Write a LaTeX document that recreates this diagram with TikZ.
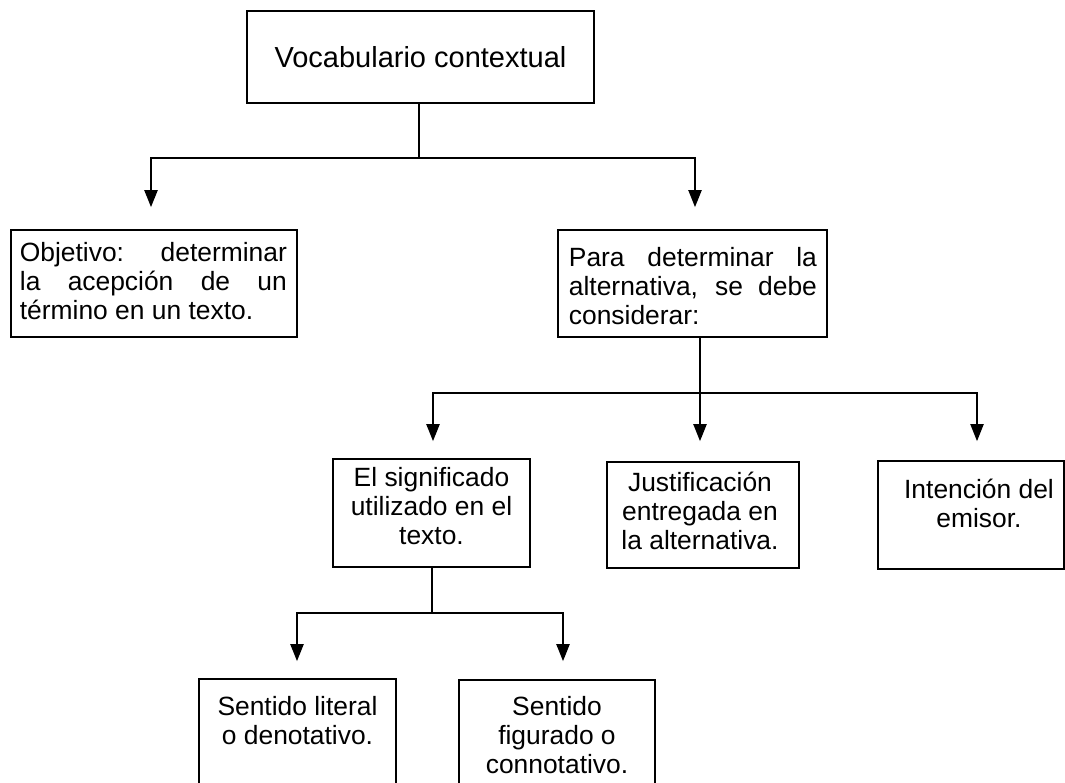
\documentclass[tikz,border=0pt]{standalone}
\usepackage{fontspec}
\setmainfont{Liberation Sans}
\usetikzlibrary{arrows.meta,calc}
\begin{document}
\begin{tikzpicture}[x=1pt,y=-1pt,
  box/.style={draw, line width=1.6pt, inner sep=0pt},
  txt/.style={font=\fontsize{26.4}{29}\selectfont, inner sep=0pt},
  ln/.style={line width=2pt},
  arr/.style={line width=2pt, -{Triangle[length=17pt,width=13pt]}}]
\clip (0,0) rectangle (1065,783);
% boxes
\node[box, minimum width=347pt, minimum height=92pt, font=\fontsize{29}{32}\selectfont] (top) at (420.5,57) {Vocabulario contextual};
\node[box, minimum width=286pt, minimum height=107pt] (obj) at (154,283.5) {};
\node[box, minimum width=269pt, minimum height=107pt] (para) at (692.5,283.5) {};
\node[box, minimum width=197pt, minimum height=108pt] (sig) at (431.5,513) {};
\node[box, minimum width=192pt, minimum height=106pt] (just) at (703,515) {};
\node[box, minimum width=186pt, minimum height=108pt] (int) at (971,515) {};
\node[box, minimum width=197pt, minimum height=121pt] (lit) at (297.5,739.5) {};
\node[box, minimum width=196pt, minimum height=120pt] (fig) at (557,740) {};
% texts
\node[txt, text width=267pt, align=justify, anchor=north west] (tobj) at ($(obj.north west)+(9.5,13)$)
  {Objetivo: determinar\linebreak la acepción de un\linebreak término en un texto.};
\node[txt, text width=248pt, align=justify, anchor=north west] (tpara) at ($(para.north west)+(11.5,18)$)
  {Para determinar la\linebreak alternativa, se debe\linebreak considerar:};
\node[txt, align=center, anchor=north] (tsig) at ($(sig.north)+(0,9)$) {El significado\\utilizado en el\\texto.};
\node[txt, align=center, anchor=north] (tjust) at ($(just.north)+(-3,11)$) {Justificación\\entregada en\\la alternativa.};
\node[txt, align=center, anchor=north] (tint) at ($(int.north)+(8,19)$) {Intención del\\emisor.};
\node[txt, align=center, anchor=north] (tlit) at ($(lit.north)+(0,18)$) {Sentido literal\\o denotativo.};
\node[txt, align=center, anchor=north] (tfig) at ($(fig.north)+(0,17)$) {Sentido\\figurado o\\connotativo.};
% connectors
\draw[ln] ($(top.south)+(-1.5,0)$) -- ++(0,54) coordinate (j1);
\draw[arr] (j1) -| ($(obj.north)+(-3,-22)$);
\draw[arr] (j1) -| ($(para.north)+(2.5,-22)$);
\draw[ln] ($(para.south)+(7.5,0)$) -- ++(0,55) coordinate (j2);
\draw[arr] (j2) -| ($(sig.north)+(1.5,-17)$);
\draw[arr] (j2) -- ($(just.north)+(-3,-20)$);
\draw[arr] (j2) -| ($(int.north)+(6,-19)$);
\draw[ln] ($(sig.south)+(0.5,0)$) -- ++(0,45) coordinate (j3);
\draw[arr] (j3) -| ($(lit.north)+(-0.5,-17)$);
\draw[arr] (j3) -| ($(fig.north)+(6,-18)$);
\end{tikzpicture}
\end{document}
